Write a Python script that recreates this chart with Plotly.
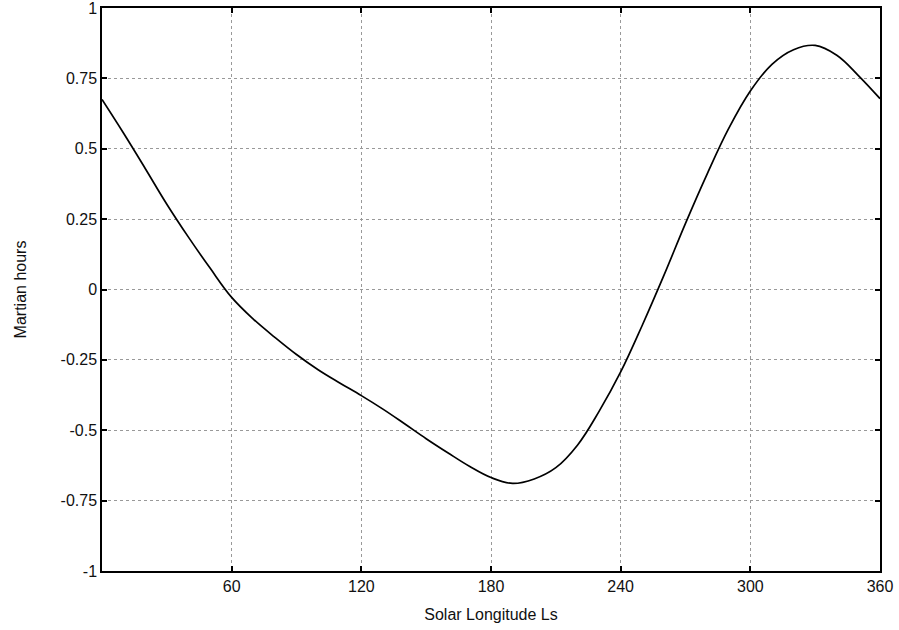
import plotly.graph_objects as go

ls_deg = [0, 10, 20, 30, 40, 50, 60, 70, 80, 90, 100, 110, 120, 130, 140, 150, 160,
          170, 180, 190, 200, 210, 220, 230, 240, 250, 260, 270, 280, 290, 300,
          310, 320, 330, 340, 350, 360]
martian_hours = [0.675, 0.555, 0.43, 0.303, 0.186, 0.076, -0.028, -0.105, -0.17,
                 -0.231, -0.285, -0.332, -0.377, -0.425, -0.477, -0.53, -0.58, -0.628,
                 -0.668, -0.689, -0.673, -0.633, -0.553, -0.433, -0.293, -0.127,
                 0.05, 0.235, 0.41, 0.572, 0.705, 0.80, 0.852, 0.867, 0.832, 0.76, 0.678]

x_ticks = [60, 120, 180, 240, 300, 360]
y_ticks = [-1, -0.75, -0.5, -0.25, 0, 0.25, 0.5, 0.75, 1]
y_labels = ["-1", "-0.75", "-0.5", "-0.25", "0", "0.25", "0.5", "0.75", "1"]

FONT = "Liberation Sans, Arial, sans-serif"

fig = go.Figure()
fig.add_trace(go.Scatter(x=ls_deg, y=martian_hours, mode="lines",
                         line=dict(color="black", width=1.7, shape="spline", smoothing=1.1),
                         showlegend=False, hoverinfo="skip"))

axis_common = dict(showline=True, linecolor="black", linewidth=1.5, mirror="ticks",
                   ticks="inside", ticklen=5, tickcolor="black", tickwidth=1.5,
                   showgrid=True, gridcolor="#999999", griddash="dot", gridwidth=1,
                   zeroline=False, automargin=False, ticklabeloverflow="allow",
                   tickfont=dict(family=FONT, size=16, color="#111111"))

fig.update_xaxes(range=[0, 360], tickvals=x_ticks, ticktext=[str(v) for v in x_ticks],
                 title=dict(text="Solar Longitude Ls", standoff=15,
                            font=dict(family=FONT, size=16, color="#111111")),
                 **axis_common)
fig.update_yaxes(range=[-1, 1], tickvals=y_ticks, ticktext=y_labels,
                 title=dict(text="Martian hours", standoff=30,
                            font=dict(family=FONT, size=16, color="#111111")),
                 **axis_common)

fig.update_layout(width=899, height=630, margin=dict(l=102, r=19, t=8, b=59),
                  plot_bgcolor="white", paper_bgcolor="white")

fig.write_html("out.html", config={"displayModeBar": False},
               post_script="document.body.style.margin='0px';document.body.style.overflow='hidden';")
